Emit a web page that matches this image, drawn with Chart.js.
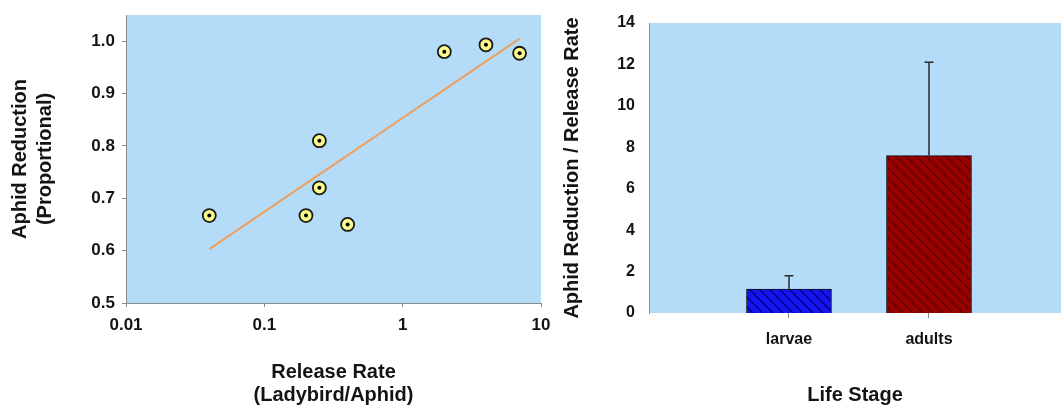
<!DOCTYPE html>
<html>
<head>
<meta charset="utf-8">
<script src="https://cdn.jsdelivr.net/npm/chart.js@4/dist/chart.umd.min.js"></script>
<style>
  body { margin: 0; background: #fff; }
  #wrap { position: relative; width: 1061px; height: 407px; overflow: hidden; }
  .panel { position: absolute; top: 0; }
</style>
</head>
<body>
<div id="wrap">
  <div class="panel" style="left:0"><canvas id="rateChart" width="550" height="407" style="width:550px;height:407px"></canvas></div>
  <div class="panel" style="left:550px"><canvas id="stageChart" width="511" height="407" style="width:511px;height:407px"></canvas></div>
</div>
<script>
// left panel: reduction vs release rate (log x)
const releaseRate = [0.04, 0.2, 0.25, 0.25, 0.4, 2, 4, 7];
const reduction = [0.667, 0.667, 0.81, 0.72, 0.65, 0.98, 0.993, 0.977];
const trendRate = [0.04, 7];
const trendReduction = [0.603, 1.005];
const rateTicks = [0.01, 0.1, 1, 10];
const reductionTicks = [0.5, 0.6, 0.7, 0.8, 0.9, 1.0];

// right panel: reduction / release rate by life stage
const stages = ['larvae', 'adults'];
const stageMeans = [1.15, 7.6];
const stageErrTop = [1.8, 12.1];
const stageTicks = [0, 2, 4, 6, 8, 10, 12, 14];

const FONT = "'Liberation Sans', Arial, sans-serif";
const plotBlue = '#b4dcf9';
const axisGray = '#8c8c8c';

// fill plot area light blue
const plotBg = {
    id: 'plotBg',
    beforeDraw(chart) {
        const a = chart.chartArea;
        const ctx = chart.ctx;
        ctx.save();
        ctx.fillStyle = plotBlue;
        ctx.fillRect(a.left, a.top, a.right - a.left, a.bottom - a.top);
        ctx.restore();
    }
};

function hatch(base, line) {
    const s = 10;
    const c = document.createElement('canvas');
    c.width = s; c.height = s;
    const g = c.getContext('2d');
    g.fillStyle = base;
    g.fillRect(0, 0, s, s);
    g.strokeStyle = line;
    g.lineWidth = 1.4;
    g.beginPath();
    g.moveTo(-1, -1); g.lineTo(s + 1, s + 1);
    g.moveTo(s - 1, -1); g.lineTo(s + 1, 1);
    g.moveTo(-1, s - 1); g.lineTo(1, s + 1);
    g.stroke();
    return document.createElement('canvas').getContext('2d').createPattern(c, 'repeat');
}

function pts(xs, ys) {
    return xs.map((x, i) => ({ x: x, y: ys[i] }));
}

new Chart('rateChart', {
    type: 'scatter',
    data: {
        datasets: [
            { data: pts(releaseRate, reduction), pointRadius: 2, pointBackgroundColor: '#000', pointBorderWidth: 0 },
            { data: pts(releaseRate, reduction), pointRadius: 6.5, pointBackgroundColor: '#fbfb8c', pointBorderColor: '#1a1a1a', pointBorderWidth: 1.8 },
            { type: 'line', data: pts(trendRate, trendReduction), borderColor: '#eda060', borderWidth: 2, pointRadius: 0 }
        ]
    },
    options: {
        responsive: false,
        animation: false,
        layout: { padding: { top: 15, right: 9, left: 0, bottom: 0 } },
        plugins: { legend: { display: false }, tooltip: { enabled: false } },
        scales: {
            x: {
                type: 'logarithmic',
                min: 0.01,
                max: 10,
                afterBuildTicks: s => { s.ticks = rateTicks.map(v => ({ value: v })); },
                afterFit: s => { s.height = 104; s.paddingLeft = 0; s.paddingRight = 0; },
                ticks: { callback: v => String(v), color: '#141414', font: { family: FONT, size: 17, weight: 'bold' }, padding: 8, maxRotation: 0 },
                grid: { drawOnChartArea: false, tickLength: 4, color: axisGray },
                border: { color: axisGray },
                title: { display: true, text: ['Release Rate', '(Ladybird/Aphid)'], color: '#141414', font: { family: FONT, size: 20, weight: 'bold', lineHeight: 1.15 }, padding: { top: 0, bottom: 0 } }
            },
            y: {
                min: 0.5,
                max: 1.05,
                afterBuildTicks: s => { s.ticks = reductionTicks.map(v => ({ value: v })); },
                afterFit: s => { s.width = 126; s.paddingTop = 0; s.paddingBottom = 0; },
                ticks: { callback: v => v.toFixed(1), color: '#141414', font: { family: FONT, size: 17, weight: 'bold' }, padding: 7 },
                grid: { drawOnChartArea: false, tickLength: 4, color: axisGray },
                border: { color: axisGray },
                title: { display: true, text: ['Aphid Reduction', '(Proportional)'], color: '#141414', font: { family: FONT, size: 20, weight: 'bold', lineHeight: 1.25 }, padding: { top: 8, bottom: 0 } }
            }
        }
    },
    plugins: [plotBg]
});

// error bars (upper only) for the stage chart
const errBars = {
    id: 'errBars',
    afterDatasetsDraw(chart) {
        const ctx = chart.ctx;
        const xs = chart.scales.x, ys = chart.scales.y;
        ctx.save();
        ctx.strokeStyle = '#2a2a2a';
        ctx.lineWidth = 1.5;
        stageMeans.forEach((m, i) => {
            const x = xs.getPixelForValue(i + 1);
            const y0 = ys.getPixelForValue(m);
            const y1 = ys.getPixelForValue(stageErrTop[i]);
            ctx.beginPath();
            ctx.moveTo(x, y0); ctx.lineTo(x, y1);
            ctx.moveTo(x - 4.5, y1); ctx.lineTo(x + 4.5, y1);
            ctx.stroke();
        });
        ctx.restore();
    }
};

new Chart('stageChart', {
    type: 'bar',
    data: {
        datasets: [{
            data: stageMeans.map((v, i) => ({ x: i + 1, y: v })),
            backgroundColor: [hatch('#1414ee', '#00008a'), hatch('#990000', '#600000')],
            borderColor: '#111',
            borderWidth: 1,
            barThickness: 85
        }]
    },
    options: {
        responsive: false,
        animation: false,
        layout: { padding: { top: 23, right: 0, left: 0, bottom: 0 } },
        plugins: { legend: { display: false }, tooltip: { enabled: false } },
        scales: {
            x: {
                type: 'linear',
                offset: false,
                min: 0,
                max: 2.943,
                afterBuildTicks: s => { s.ticks = stages.map((_, i) => ({ value: i + 1 })); },
                afterFit: s => { s.height = 94; s.paddingLeft = 0; s.paddingRight = 0; },
                ticks: { callback: v => stages[v - 1], color: '#141414', font: { family: FONT, size: 16, weight: 'bold' }, padding: 12, maxRotation: 0 },
                grid: { offset: false, drawOnChartArea: false, tickLength: 5, color: axisGray },
                border: { display: false },
                title: { display: true, text: 'Life Stage', color: '#141414', font: { family: FONT, size: 20, weight: 'bold' }, padding: { top: 0, bottom: 0 } }
            },
            y: {
                min: 0,
                max: 14,
                afterBuildTicks: s => { s.ticks = stageTicks.map(v => ({ value: v })); },
                afterFit: s => { s.width = 99; s.paddingTop = 0; s.paddingBottom = 0; },
                ticks: { color: '#141414', font: { family: FONT, size: 16, weight: 'bold' }, padding: 6 },
                grid: { display: false },
                border: { color: '#7f98b4' },
                title: { display: true, text: 'Aphid Reduction / Release Rate', color: '#141414', font: { family: FONT, size: 20, weight: 'bold' }, padding: { top: 10, bottom: 0 } }
            }
        }
    },
    plugins: [plotBg, errBars]
});
</script>
</body>
</html>
